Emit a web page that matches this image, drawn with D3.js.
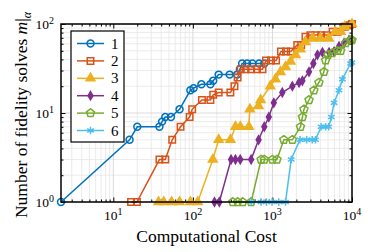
<!DOCTYPE html>
<html>
<head>
<meta charset="utf-8">
<script src="https://cdn.jsdelivr.net/npm/d3@7"></script>
<style>
  body { margin: 0; background: #fff; }
  text { font-family: "Liberation Serif", "DejaVu Serif", serif; fill: #000; }
</style>
</head>
<body>
<div id="chart"></div>
<script>
// computational cost / number of fidelity solves for each series
const cost1 = [2.2, 16, 20, 38, 41, 45, 53, 68, 93, 102, 128, 166, 180, 211, 290, 360, 390, 416, 480, 560, 680, 790];
const count1 = [1, 5, 7, 7, 8, 9, 9, 11, 18, 19, 21, 21, 23, 27, 27, 27, 31, 36, 36, 36, 36, 36];
const cost2 = [16.7, 19.8, 38, 45, 55, 70, 91, 98, 130, 166, 180, 211, 296, 333, 365, 400, 460, 540, 640, 750, 830, 960, 1110, 1280, 1480, 1700, 2050, 2300, 2600, 3000, 3500, 4100, 4800, 5700, 6600, 8100, 9300, 10000];
const count2 = [1, 1, 3, 3, 5, 7, 9, 11, 14, 14, 16, 17, 17, 20, 25, 31, 31, 31, 31, 31, 39, 39, 39, 49, 49, 49, 58, 58, 72, 75, 75, 75, 75, 82, 82, 93, 97, 100];
const cost3 = [37, 43, 54, 68, 93, 115, 178, 211, 296, 343, 394, 505, 520, 670, 710, 940, 1090, 1260, 1460, 1690, 1950, 2250, 2600, 3200, 4000, 5100, 6200, 7200, 8100, 10000];
const count3 = [1, 1, 1, 1, 1, 1, 3, 5, 5, 7, 7, 7, 11, 12, 14, 20, 24, 29, 33, 38, 45, 52, 63, 69, 69, 69, 82, 82, 93, 100];
const cost4 = [187, 215, 302, 343, 394, 540, 670, 790, 900, 1040, 1330, 1780, 2160, 2380, 2880, 3270, 3680, 4250, 5150, 5950, 6860, 7940, 9170];
const count4 = [1, 1, 3, 3, 3, 3, 5, 7, 9, 13, 17, 20, 22, 23, 29, 36, 45, 48, 48, 49, 56, 61, 66];
const cost5 = [318, 366, 423, 540, 720, 790, 1000, 1140, 1390, 1780, 2250, 2380, 2490, 2880, 3320, 3840, 4440, 4660, 4990, 5650, 6540, 7200, 8300, 9600, 10000];
const count5 = [1, 1, 1, 1, 3, 3, 3, 3, 5, 5, 7, 9, 11, 14, 18, 22, 29, 39, 45, 47, 50, 50, 61, 66, 66];
const cost6 = [540, 720, 840, 990, 1200, 1460, 1720, 2220, 2690, 3160, 3480, 4090, 4650, 5100, 5500, 5950, 6860, 7570, 9600, 10000];
const count6 = [1, 1, 1, 1, 1, 1, 3, 5, 5, 5, 5, 7, 7, 7, 9, 13, 18, 24, 36, 37];

const seriesNames = ['1', '2', '3', '4', '5', '6'];
const xTicks = [10, 100, 1000, 10000];
const yTicks = [1, 10, 100];
const xMin = 2.2;

const width = 368, height = 252;
const margin = { top: 24, right: 16, bottom: 50, left: 61 };

const colors = ['#0072BD', '#D95319', '#EDB120', '#7E2F8E', '#77AC30', '#4DBEEE'];

// pentagon marker, d3 has no built in one
const pentagon = {
  draw(ctx, size) {
    const r = Math.sqrt(size / 2.378);
    for (let i = 0; i < 5; i++) {
      const a = -Math.PI / 2 + i * 2 * Math.PI / 5;
      if (i === 0) ctx.moveTo(r * Math.cos(a), r * Math.sin(a));
      else ctx.lineTo(r * Math.cos(a), r * Math.sin(a));
    }
    ctx.closePath();
  }
};

const markers = [
  { type: d3.symbolCircle, size: 38, fill: false },
  { type: d3.symbolSquare, size: 42, fill: false },
  { type: d3.symbolTriangle, size: 34, fill: true },
  { type: d3.symbolDiamond, size: 20, fill: true },
  { type: pentagon, size: 42, fill: false },
  { type: d3.symbolAsterisk, size: 40, fill: false }
];

const series = [
  [cost1, count1], [cost2, count2], [cost3, count3],
  [cost4, count4], [cost5, count5], [cost6, count6]
].map(([xs, ys], i) => ({ name: seriesNames[i], values: xs.map((x, j) => ({ x, y: ys[j] })) }));

const svg = d3.select('#chart').append('svg')
  .attr('width', width)
  .attr('height', height);

const chartWidth = width - margin.left - margin.right;
const chartHeight = height - margin.top - margin.bottom;

const chart = svg.append('g')
  .attr('transform', `translate(${margin.left},${margin.top})`);

const xScale = d3.scaleLog().domain([xMin, 10000]).range([0, chartWidth]);
const yScale = d3.scaleLog().domain([1, 100]).range([chartHeight, 0]);

// grid lines: minor then major
const minorX = [], minorY = [];
for (let e = 0; e < 4; e++) for (let m = 2; m < 10; m++) {
  const v = m * Math.pow(10, e);
  if (v > xMin && v < 10000) minorX.push(v);
  if (v < 100) minorY.push(v);
}

const grid = chart.append('g').classed('grid', true);
grid.selectAll('.minor-x').data(minorX).enter().append('line')
  .attr('x1', d => xScale(d)).attr('x2', d => xScale(d))
  .attr('y1', 0).attr('y2', chartHeight)
  .attr('stroke', '#e6e6e6').attr('stroke-width', 0.8);
grid.selectAll('.minor-y').data(minorY).enter().append('line')
  .attr('y1', d => yScale(d)).attr('y2', d => yScale(d))
  .attr('x1', 0).attr('x2', chartWidth)
  .attr('stroke', '#e6e6e6').attr('stroke-width', 0.8);
grid.selectAll('.major-x').data(xTicks).enter().append('line')
  .attr('x1', d => xScale(d)).attr('x2', d => xScale(d))
  .attr('y1', 0).attr('y2', chartHeight)
  .attr('stroke', '#d0d0d0').attr('stroke-width', 0.8);
grid.selectAll('.major-y').data(yTicks).enter().append('line')
  .attr('y1', d => yScale(d)).attr('y2', d => yScale(d))
  .attr('x1', 0).attr('x2', chartWidth)
  .attr('stroke', '#d0d0d0').attr('stroke-width', 0.8);

// inward ticks on all four sides
const tickAxes = [
  { ax: d3.axisBottom(xScale), tr: `translate(0,${chartHeight})`, vals: xTicks, minor: minorX },
  { ax: d3.axisTop(xScale), tr: 'translate(0,0)', vals: xTicks, minor: minorX },
  { ax: d3.axisLeft(yScale), tr: 'translate(0,0)', vals: yTicks, minor: minorY },
  { ax: d3.axisRight(yScale), tr: `translate(${chartWidth},0)`, vals: yTicks, minor: minorY }
];
tickAxes.forEach(t => {
  chart.append('g').attr('transform', t.tr)
    .call(t.ax.tickValues(t.minor).tickSize(-2.5).tickFormat(''))
    .call(g => g.select('.domain').remove());
  chart.append('g').attr('transform', t.tr)
    .call(t.ax.tickValues(t.vals).tickSize(-4.5).tickFormat(''))
    .call(g => g.select('.domain').remove());
});

// lines and markers
const line = d3.line().x(d => xScale(d.x)).y(d => yScale(d.y));

series.forEach((s, i) => {
  const g = chart.append('g').classed('series', true);
  g.append('path')
    .datum(s.values)
    .attr('d', line)
    .attr('fill', 'none')
    .attr('stroke', colors[i])
    .attr('stroke-width', 1.5);
  g.selectAll('.mark')
    .data(s.values)
    .enter()
    .append('path')
    .attr('transform', d => `translate(${xScale(d.x)},${yScale(d.y)})`)
    .attr('d', d3.symbol().type(markers[i].type).size(markers[i].size))
    .attr('fill', markers[i].fill ? colors[i] : 'none')
    .attr('stroke', colors[i])
    .attr('stroke-width', 1.5);
});

// box
chart.append('rect')
  .attr('width', chartWidth).attr('height', chartHeight)
  .attr('fill', 'none').attr('stroke', '#000').attr('stroke-width', 1.5);

// tick labels with superscripts
chart.selectAll('.xlab').data(xTicks).enter().append('text')
  .attr('x', d => xScale(d))
  .attr('y', chartHeight + 17.5)
  .attr('text-anchor', 'middle')
  .style('font-size', '13.5px')
  .each(function (d) {
    const t = d3.select(this);
    t.append('tspan').text('10');
    t.append('tspan').attr('dy', -5).style('font-size', '10px').text(Math.round(Math.log10(d)));
  });

chart.selectAll('.ylab').data(yTicks).enter().append('text')
  .attr('x', -7)
  .attr('y', d => yScale(d) + 5)
  .attr('text-anchor', 'end')
  .style('font-size', '13.5px')
  .each(function (d) {
    const t = d3.select(this);
    t.append('tspan').text('10');
    t.append('tspan').attr('dy', -5).style('font-size', '10px').text(Math.round(Math.log10(d)));
  });

// axis labels
svg.append('text')
  .attr('x', margin.left + chartWidth / 2)
  .attr('y', 242)
  .attr('text-anchor', 'middle')
  .style('font-size', '17.5px')
  .text('Computational Cost');

const ylab = svg.append('text')
  .attr('transform', `translate(27,${margin.top + chartHeight / 2 + 2}) rotate(-90)`)
  .attr('text-anchor', 'middle')
  .style('font-size', '17.5px');
ylab.append('tspan').text('Number of fidelity solves ');
ylab.append('tspan').style('font-style', 'italic').text('m');
ylab.append('tspan').text('|');
ylab.append('tspan').attr('dy', 4).style('font-style', 'italic').style('font-size', '12px').text('α');

// legend
const legend = chart.append('g').attr('transform', 'translate(10,7)');
legend.append('rect')
  .attr('width', 53).attr('height', 111)
  .attr('fill', '#fff').attr('stroke', '#000').attr('stroke-width', 1.2);
series.forEach((s, i) => {
  const y = 12.5 + i * 17.4;
  legend.append('line')
    .attr('x1', 6).attr('x2', 33).attr('y1', y).attr('y2', y)
    .attr('stroke', colors[i]).attr('stroke-width', 1.5);
  legend.append('path')
    .attr('transform', `translate(19.5,${y})`)
    .attr('d', d3.symbol().type(markers[i].type).size(markers[i].size))
    .attr('fill', markers[i].fill ? colors[i] : 'none')
    .attr('stroke', colors[i]).attr('stroke-width', 1.5);
  legend.append('text')
    .attr('x', 40).attr('y', y + 5)
    .style('font-size', '15px')
    .text(s.name);
});
</script>
</body>
</html>
